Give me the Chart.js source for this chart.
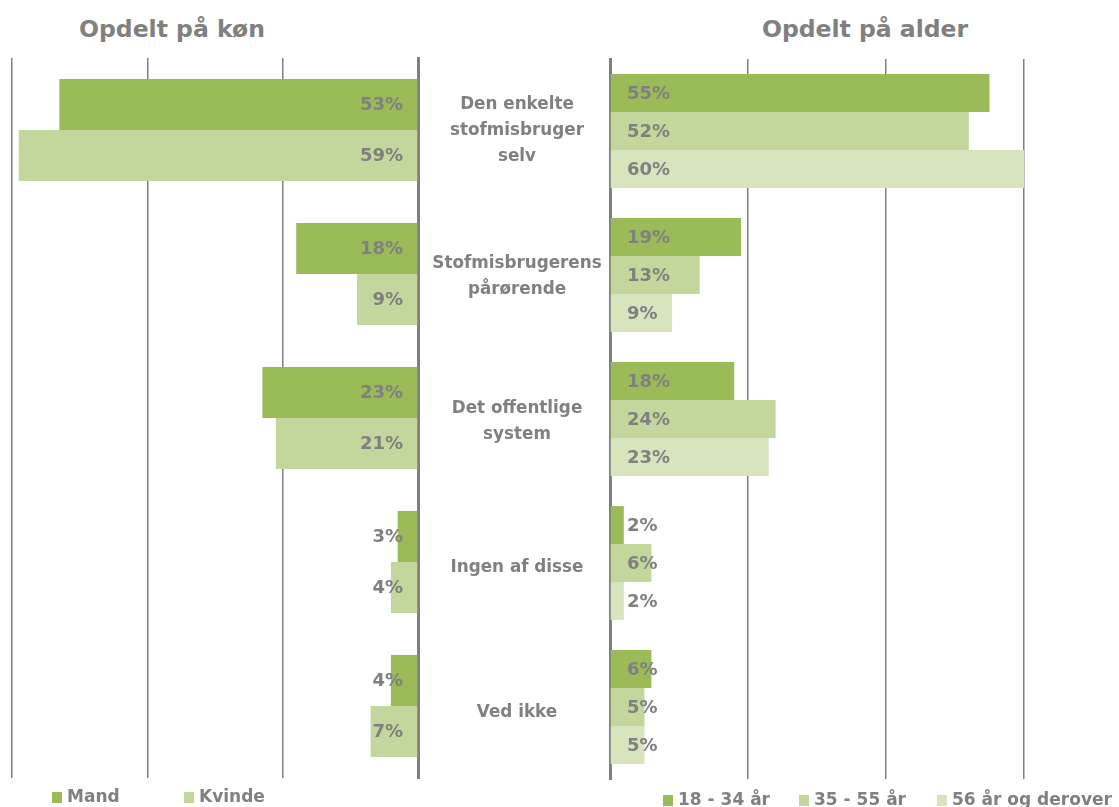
<!DOCTYPE html>
<html>
<head>
<meta charset="utf-8">
<script src="https://cdn.jsdelivr.net/npm/chart.js@4.4.1/dist/chart.umd.min.js"></script>
<style>
  html, body { margin: 0; padding: 0; background: #fff; overflow: hidden; }
  body { width: 1119px; height: 807px; position: relative; font-family: "DejaVu Sans", Verdana, sans-serif; color: #808080; font-weight: bold; }
  .abs { position: absolute; }
  .title { font-size: 23.5px; top: 15px; width: 400px; text-align: center; }
  .cat { font-size: 16.8px; line-height: 26px; text-align: center; width: 192px; left: 421px; }
  .leg { font-size: 17px; white-space: nowrap; }
  .sw { position: absolute; width: 10px; height: 11px; }
</style>
</head>
<body>
<div class="abs title" style="left:-28px">Opdelt på køn</div>
<div class="abs title" style="left:665px">Opdelt på alder</div>
<div class="abs" style="left:0;top:40px;width:440px;height:760px"><canvas id="left"></canvas></div>
<div class="abs" style="left:600px;top:40px;width:700px;height:760px"><canvas id="right"></canvas></div>
<div id="cats"></div>
<div id="legends"></div>
<script>
(function () {
'use strict';
const categories = ['Den enkelte stofmisbruger selv', 'Stofmisbrugerens pårørende', 'Det offentlige system', 'Ingen af disse', 'Ved ikke'];
const catLines = [['Den enkelte', 'stofmisbruger', 'selv'], ['Stofmisbrugerens', 'pårørende'], ['Det offentlige', 'system'], ['Ingen af disse'], ['Ved ikke']];
const genderLabels = ['Mand', 'Kvinde'];
const mand   = [53, 18, 23, 3, 4];
const kvinde = [59, 9, 21, 4, 7];
const ageLabels = ['18 - 34 år', '35 - 55 år', '56 år og derover'];
const age18 = [55, 19, 18, 2, 6];
const age35 = [52, 13, 24, 6, 5];
const age56 = [60, 9, 23, 2, 5];
const DARK = '#9bbb59', MID = '#c3d69b', LIGHT = '#d7e4bd', GREY = '#808080';

// value labels sit at the bar base, next to the axis
const baseLabels = {
    id: 'baseLabels',
    afterDatasetsDraw(chart, args, opts) {
        const ctx = chart.ctx;
        const x0 = chart.scales.x.getPixelForValue(0);
        ctx.save();
        ctx.font = 'bold 18px "DejaVu Sans", Verdana, sans-serif';
        ctx.fillStyle = GREY;
        ctx.textBaseline = 'middle';
        ctx.textAlign = opts.side === 'left' ? 'right' : 'left';
        chart.data.datasets.forEach((ds, di) => {
            chart.getDatasetMeta(di).data.forEach((bar, i) => {
                const x = opts.side === 'left' ? x0 - 15 : x0 + 17;
                ctx.fillText(ds.data[i] + '%', x, bar.y + 1);
            });
        });
        ctx.restore();
    }
};

function makeChart(id, datasets, opt) {
    return new Chart(document.getElementById(id), {
        type: 'bar',
        data: { labels: categories, datasets: datasets },
        plugins: [baseLabels],
        options: {
            indexAxis: 'y',
            responsive: true, maintainAspectRatio: false, animation: false,
            layout: { padding: opt.padding },
            datasets: { bar: { categoryPercentage: opt.catPct, barPercentage: 1, borderWidth: 0 } },
            plugins: { legend: { display: false }, tooltip: { enabled: false }, baseLabels: { side: opt.side } },
            scales: {
                x: {
                    reverse: opt.side === 'left', min: 0, max: opt.max,
                    ticks: { display: false, stepSize: 20 },
                    grid: { color: GREY, lineWidth: 1.5, drawTicks: false },
                    border: { display: false },
                    afterFit: s => { s.height = 0; }
                },
                y: {
                    position: opt.side === 'left' ? 'right' : 'left',
                    ticks: { display: false },
                    grid: { display: false, drawTicks: false },
                    border: { display: true, color: GREY, width: 3 },
                    afterFit: s => { s.width = 0; }
                }
            }
        }
    });
}

makeChart('left', [
    { label: genderLabels[0], data: mand, backgroundColor: DARK },
    { label: genderLabels[1], data: kvinde, backgroundColor: MID }
], { side: 'left', max: 60, catPct: 0.71, padding: { left: 12, right: 22, top: 18, bottom: 22 } });

makeChart('right', [
    { label: ageLabels[0], data: age18, backgroundColor: DARK },
    { label: ageLabels[1], data: age35, backgroundColor: MID },
    { label: ageLabels[2], data: age56, backgroundColor: LIGHT }
], { side: 'right', max: 100, catPct: 0.79, padding: { left: 10, right: 0, top: 19, bottom: 21 } });

// category labels in the middle column
const catCenters = [129, 275, 420, 566, 711];
const cats = document.getElementById('cats');
catLines.forEach((lines, i) => {
    const d = document.createElement('div');
    d.className = 'abs cat';
    d.innerHTML = lines.join('<br>');
    d.style.top = (catCenters[i] - lines.length * 13) + 'px';
    cats.appendChild(d);
});

// legends
const legendItems = [
    { text: genderLabels[0], color: DARK, x: 52, y: 792 },
    { text: genderLabels[1], color: MID, x: 184, y: 792 },
    { text: ageLabels[0], color: DARK, x: 663, y: 795 },
    { text: ageLabels[1], color: MID, x: 799, y: 795 },
    { text: ageLabels[2], color: LIGHT, x: 937, y: 795 }
];
const leg = document.getElementById('legends');
legendItems.forEach(it => {
    const sw = document.createElement('div');
    sw.className = 'sw';
    sw.style.left = it.x + 'px'; sw.style.top = it.y + 'px'; sw.style.background = it.color;
    leg.appendChild(sw);
    const t = document.createElement('div');
    t.className = 'abs leg';
    t.textContent = it.text;
    t.style.left = (it.x + 15) + 'px'; t.style.top = (it.y - 6) + 'px';
    leg.appendChild(t);
});
})();
</script>
</body>
</html>
